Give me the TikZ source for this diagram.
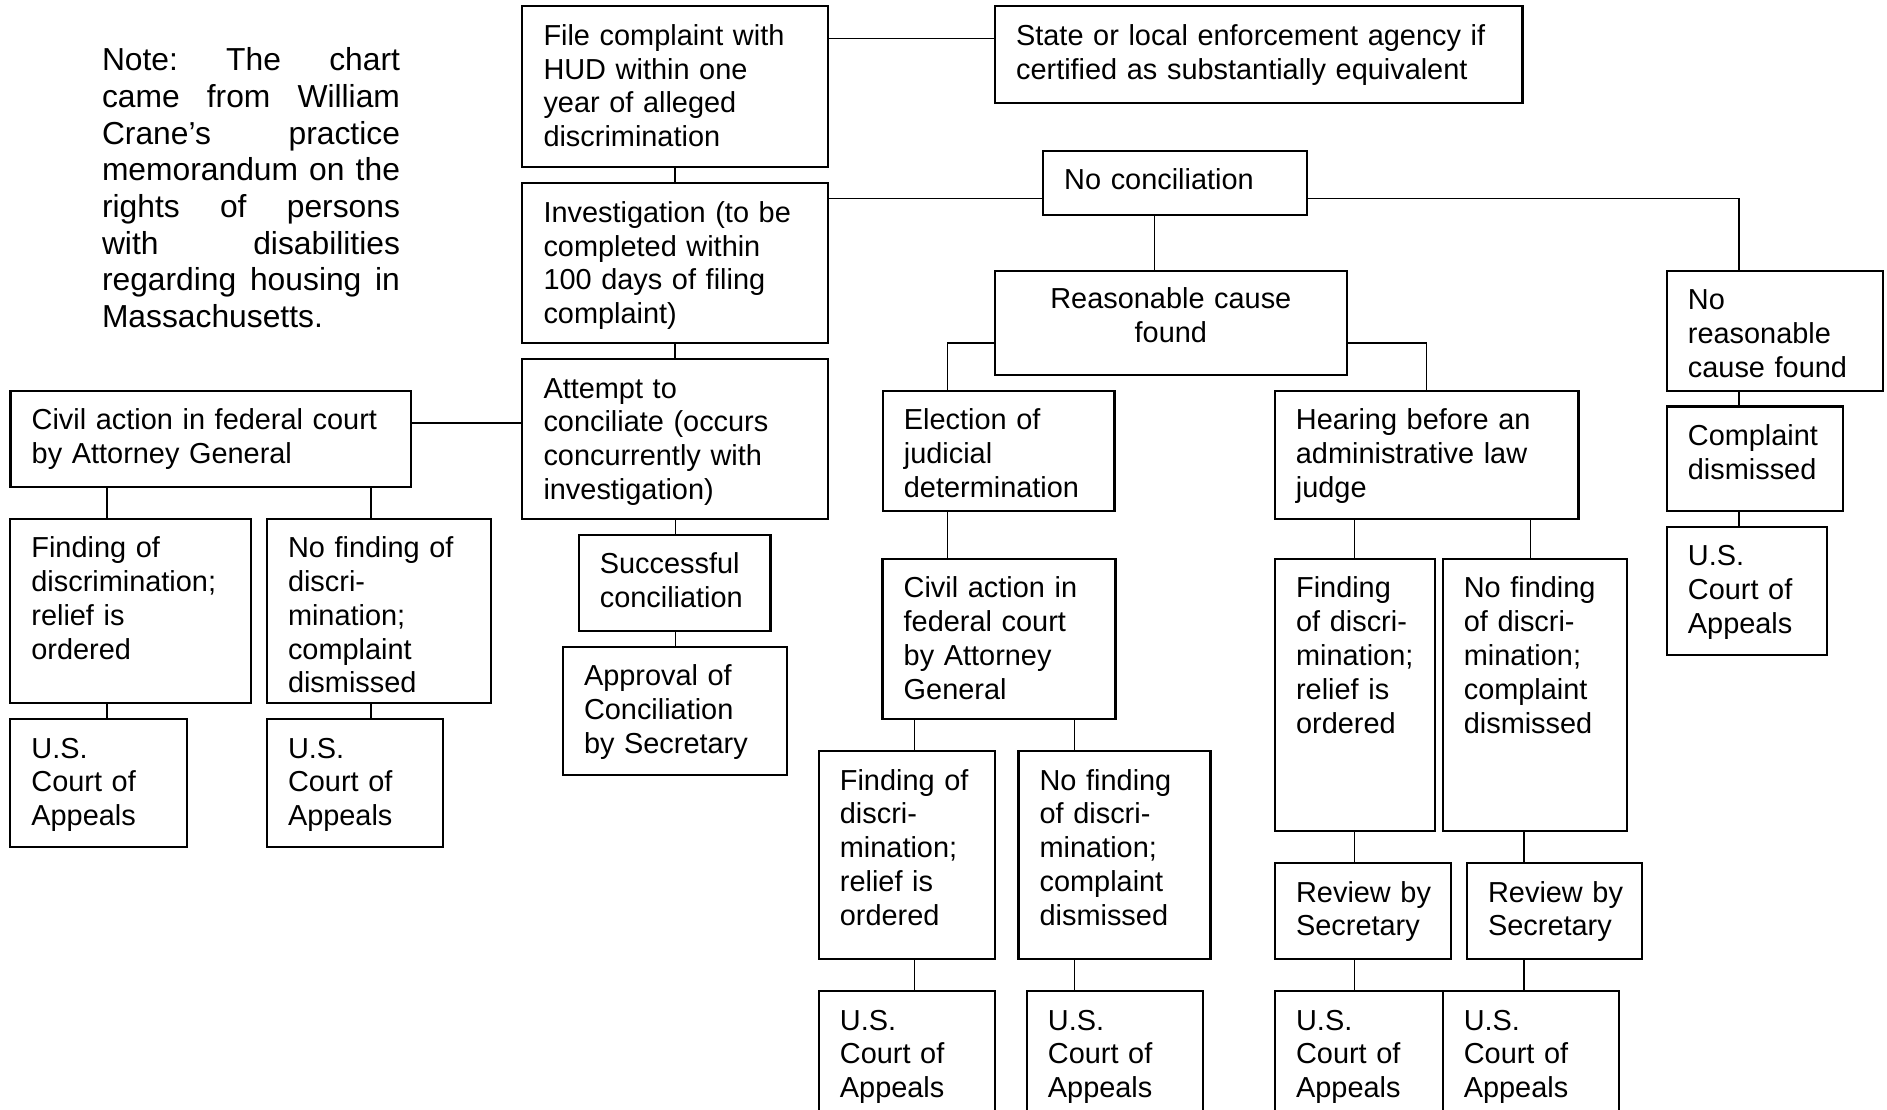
\documentclass[tikz,border=0pt]{standalone}
\usepackage{fontspec}
\setmainfont{Liberation Sans}
\newcommand\bxfont{\fontsize{28.9pt}{33.8pt}\selectfont}
\newcommand\ntfont{\fontsize{31.8pt}{36.7pt}\selectfont}
\tikzset{
  boxst/.style={draw, line width=2.2pt, inner sep=0pt, outer sep=0pt, anchor=north west},
  txtst/.style={anchor=base west, inner sep=0pt, text width=520pt, align=left, font=\bxfont},
  conn/.style={line width=1.5pt},
}
\newcommand\bx[6]{%
  \node[boxst, minimum width={#4pt-#2pt}, minimum height={#5pt-#3pt}] (#1) at (#2,#3) {};
  \node[txtst] (#1t) at ([xshift=21pt,yshift=-39pt]#1.north west) {#6};
}
\begin{document}
\begin{tikzpicture}[x=1pt,y=-1pt]
\useasboundingbox (0,0) rectangle (1887,1110);
\fill[white] (0,0) rectangle (1887,1110);
\clip (0,0) rectangle (1887,1110);

% note
\node[anchor=base west, inner sep=0pt, text width=298pt, align=left, font=\ntfont] (note) at (101.8,70.8)
 {Note:\hfill The\hfill chart\\ came\hfill from\hfill William\\ Crane’s\hfill practice\\ memorandum\hfill on\hfill the\\ rights\hfill of\hfill persons\\ with\hfill disabilities\\ regarding\hfill housing\hfill in\\ Massachusetts.};

% boxes
\bx{A}{522.3}{6.4}{827.7}{166.8}{File complaint with\\ HUD within one\\ year of alleged\\ discrimination}
\bx{B}{994.9}{6.4}{1522.4}{102.9}{State or local enforcement agency if\\ certified as substantially equivalent}
\bx{C}{522.3}{183.2}{827.7}{342.9}{Investigation (to be\\ completed within\\ 100 days of filing\\ complaint)}
\bx{D}{522.3}{359.0}{827.7}{518.6}{Attempt to\\ conciliate (occurs\\ concurrently with\\ investigation)}
\bx{E}{10.5}{390.7}{411}{486.8}{Civil action in federal court\\ by Attorney General}
\bx{F}{1043}{150.7}{1306.7}{215}{No conciliation}
\node[boxst, minimum width={351.9pt}, minimum height={104.3pt}] (G) at (994.9,270.7) {};
\node[anchor=base, inner sep=0pt, text width=351.9pt, align=center, font=\bxfont] (Gt) at ([yshift=-38pt]G.north) {Reasonable cause\\ found};
\bx{H}{1666.7}{270.7}{1883}{391}{No\\ reasonable\\ cause found}
\bx{I}{1666.7}{406.4}{1843}{511}{Complaint\\ dismissed}
\bx{J}{1666.7}{526.8}{1827}{655}{U.S.\\ Court of\\ Appeals}
\bx{K}{882.7}{390.7}{1114.4}{511}{Election of\\ judicial\\ determination}
\bx{L}{1274.7}{390.7}{1578.5}{518.6}{Hearing before an\\ administrative law\\ judge}
\bx{M}{882.5}{558.8}{1115.4}{719}{Civil action in\\ federal court\\ by Attorney\\ General}
\bx{N}{818.7}{751}{994.8}{959}{Finding of\\ discri-\\ mination;\\ relief is\\ ordered}
\bx{O}{1018.4}{751}{1210.4}{959}{No finding\\ of discri-\\ mination;\\ complaint\\ dismissed}
\bx{P}{818.7}{991}{994.8}{1125}{U.S.\\ Court of\\ Appeals}
\bx{Q}{1026.7}{991}{1202.8}{1125}{U.S.\\ Court of\\ Appeals}
\bx{R}{1274.9}{558.8}{1435}{830.7}{Finding\\ of discri-\\ mination;\\ relief is\\ ordered}
\bx{S}{1442.6}{558.8}{1627}{830.7}{No finding\\ of discri-\\ mination;\\ complaint\\ dismissed}
\bx{T}{1274.9}{863}{1451}{959}{Review by\\ Secretary}
\bx{U}{1466.9}{863}{1642.3}{959}{Review by\\ Secretary}
\bx{V}{1274.9}{991}{1442.6}{1125}{U.S.\\ Court of\\ Appeals}
\bx{W}{1442.6}{991}{1618.7}{1125}{U.S.\\ Court of\\ Appeals}
\bx{X}{10.2}{518.6}{251}{702.7}{Finding of\\ discrimination;\\ relief is\\ ordered}
\bx{Y}{266.8}{518.6}{490.8}{702.7}{No finding of\\ discri-\\ mination;\\ complaint\\ dismissed}
\bx{Za}{10.2}{719}{186.7}{846.7}{U.S.\\ Court of\\ Appeals}
\bx{Zb}{266.8}{719}{442.9}{846.7}{U.S.\\ Court of\\ Appeals}
\bx{SC}{578.6}{534.7}{770.4}{630.7}{Successful\\ conciliation}
\bx{AP}{562.8}{646.7}{786.7}{775}{Approval of\\ Conciliation\\ by Secretary}

% connector guide coordinates
\coordinate (yAB) at (0,38.6);
\coordinate (yCF) at (0,198.6);
\coordinate (xFG) at (1154.5,0);
\coordinate (xH) at (1738.8,0);
\coordinate (yG) at (0,342.9);
\coordinate (xK) at (947.5,0);
\coordinate (xN) at (914.4,0);
\coordinate (xO) at (1074.5,0);
\coordinate (xR) at (1354.6,0);
\coordinate (xS) at (1530.5,0);
\coordinate (xU) at (1524,0);
\coordinate (yDE) at (0,423.2);
\coordinate (xX) at (106.8,0);
\coordinate (xY) at (370.8,0);
\coordinate (xSC) at (675.5,0);

% connectors
\draw[conn] (A.east |- yAB) -- (B.west |- yAB);
\draw[conn] (A.south) -- (C.north);
\draw[conn] (C.south) -- (D.north);
\draw[conn] (C.east |- yCF) -- (F.west |- yCF);
\draw[conn] (F.south -| xFG) -- (G.north -| xFG);
\draw[conn] (F.east |- yCF) -| (H.north -| xH);
\draw[conn] (H.south -| xH) -- (I.north -| xH);
\draw[conn] (I.south -| xH) -- (J.north -| xH);
\draw[conn] (G.west |- yG) -| (K.north -| xK);
\draw[conn] (G.east |- yG) -| (L.north);
\draw[conn] (K.south -| xK) -- (M.north -| xK);
\draw[conn] (M.south -| xN) -- (N.north -| xN);
\draw[conn] (M.south -| xO) -- (O.north -| xO);
\draw[conn] (N.south -| xN) -- (P.north -| xN);
\draw[conn] (O.south -| xO) -- (Q.north -| xO);
\draw[conn] (L.south -| xR) -- (R.north -| xR);
\draw[conn] (L.south -| xS) -- (S.north -| xS);
\draw[conn] (R.south -| xR) -- (T.north -| xR);
\draw[conn] (S.south -| xU) -- (U.north -| xU);
\draw[conn] (T.south -| xR) -- (V.north -| xR);
\draw[conn] (U.south -| xU) -- (W.north -| xU);
\draw[conn] (E.east |- yDE) -- (D.west |- yDE);
\draw[conn] (E.south -| xX) -- (X.north -| xX);
\draw[conn] (E.south -| xY) -- (Y.north -| xY);
\draw[conn] (X.south -| xX) -- (Za.north -| xX);
\draw[conn] (Y.south -| xY) -- (Zb.north -| xY);
\draw[conn] (D.south -| xSC) -- (SC.north -| xSC);
\draw[conn] (SC.south -| xSC) -- (AP.north -| xSC);
\end{tikzpicture}
\end{document}
